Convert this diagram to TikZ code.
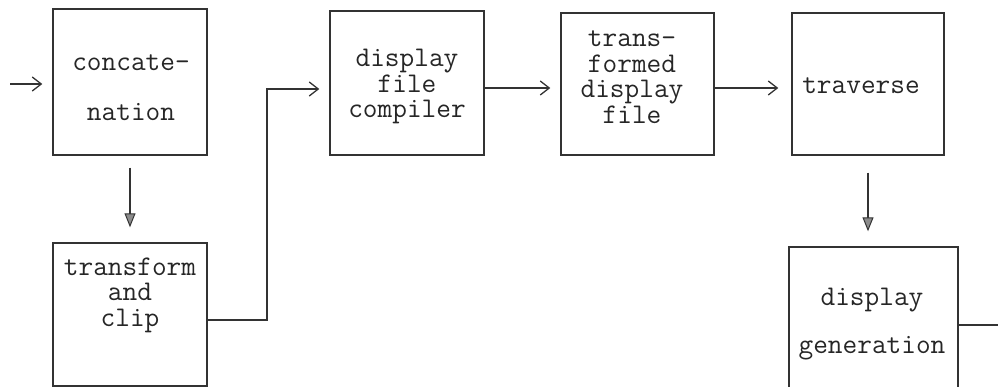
\documentclass[tikz,border=0pt]{standalone}
\usepackage{fontspec}
\usetikzlibrary{arrows.meta}
\begin{document}
\begin{tikzpicture}[x=1pt,y=-1pt,
  line width=1.4pt,
  box/.style={draw=black!80, rectangle, inner sep=0pt},
  lbl/.style={align=center, inner sep=0pt, text=black!85,
    font=\ttfamily\fontsize{28.5}{25.5}\selectfont},
  harr/.style={draw=black!80, -{Straight Barb[length=9pt,width=14pt,line width=1.3pt]}},
  varr/.style={draw=black!80, -{Triangle[length=14pt,width=11pt,fill=black!45,line width=1pt]}},
  plain/.style={draw=black!80}]
\path[use as bounding box, clip] (0,0) rectangle (998,387);

% processing stages
\node[box, minimum width=154pt, minimum height=146pt] (b1) at (130,82) {};
\node[box, minimum width=154pt, minimum height=143pt] (b2) at (130,314.5) {};
\node[box, minimum width=154pt, minimum height=144pt] (b3) at (407,83) {};
\node[box, minimum width=153pt, minimum height=142pt] (b4) at (637.5,84) {};
\node[box, minimum width=152pt, minimum height=142pt] (b5) at (868,84) {};
\node[box, minimum width=169pt, minimum height=154pt] (b6) at (873.5,324) {};

% stage names
\node[lbl, font=\ttfamily\fontsize{28.5}{25.5}\selectfont\addfontfeatures{LetterSpace=6}] (t1) at (131,87.5) {concate-\\[25pt]nation};
\node[lbl] (t2) at (130,295) {transform\\and\\clip};
\node[lbl] (t3) at (407,86.5) {display\\file\\compiler};
\node[lbl] (t4) at (632,77) {trans-\\formed\\display\\file};
\node[lbl] (t5) at (861,86) {traverse};
\node[lbl] (t6) at (872,324) {display\\[22.5pt]generation};

% connectors
\coordinate (in) at (10,84);
\coordinate (out) at (998,325);
\coordinate (bend) at (267,320);
\draw[harr, shorten >=10pt] (in) -- (in -| b1.west);
\draw[varr, shorten <=12pt, shorten >=15pt] (b1.south) -- (b2.north);
\draw[harr, shorten >=10pt] (bend -| b2.east) -- (bend) -- (bend |- 0,89) -- (b3.west |- 0,89);
\draw[harr, shorten >=10pt] (b3.east |- 0,88) -- (b4.west |- 0,88);
\draw[harr, shorten >=13pt] (b4.east |- 0,88) -- (b5.west |- 0,88);
\draw[varr, shorten <=17pt, shorten >=15pt] (b5.south) -- (b5.south |- b6.north);
\draw[plain] (out -| b6.east) -- (out);
\end{tikzpicture}
\end{document}
